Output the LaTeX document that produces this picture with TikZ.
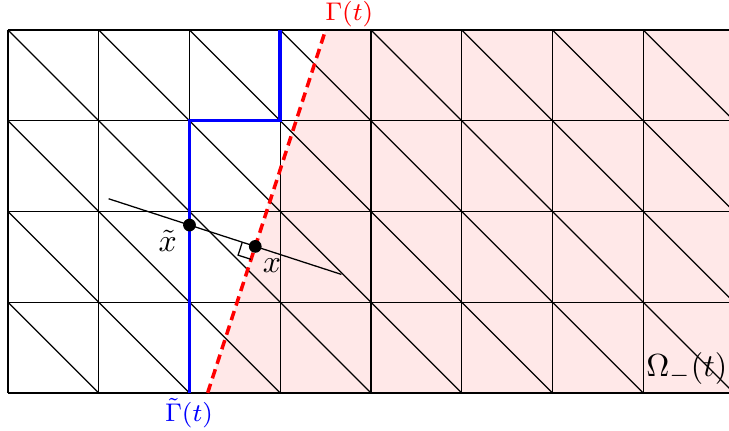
\documentclass[tikz,border=0pt]{standalone}
\usepackage{amsmath}
\usetikzlibrary{calc}
\tikzset{
  mesh line/.style={black, line width=0.4pt},
  omega fill/.style={fill=red!9},
  front line/.style={red, line width=1.1pt, dash pattern=on 3pt off 1.8pt},
  disc line/.style={blue, line width=1.1pt},
  pt dot/.style={circle, fill=black, inner sep=0pt, minimum size=4pt},
  proj line/.style={black, line width=0.4pt},
  pt label/.style={font=\normalsize, inner sep=1pt}
}
\begin{document}
\begin{tikzpicture}
  \useasboundingbox (-0.088,-0.409) rectangle (7.945,4.33);
  \coordinate (g0) at (2.2,0);
  \coordinate (g1) at (3.5,4);

  % region Omega_-
  \fill[omega fill] (g0) -- (g1) -- (8,4) -- (8,0) -- cycle;

  % mesh
  \begin{scope}
    \clip (-0.1,-0.1) rectangle (7.945,4.1);
    \foreach \i in {0,...,8}
      \draw[mesh line] (\i,0) -- (\i,4);
    \foreach \j in {0,...,4}
      \draw[mesh line] (0,\j) -- (8,\j);
    \foreach \i in {0,...,7} {
      \foreach \j in {0,...,3}
        \draw[mesh line] (\i,\j+1) -- (\i+1,\j);
    }
  \end{scope}

  % interfaces
  \draw[disc line] (2,0) -- (2,3) -- (3,3) -- (3,4);
  \draw[front line] (g0) -- (g1);

  % projection
  \node[pt dot] (xt) at (2,1.85) {};
  \coordinate (xp) at ($(g0)!(xt)!(g1)$);
  \node[pt dot] (x) at (xp) {};
  \coordinate (l0) at ($(xt)!-1.23!(xp)$);
  \coordinate (l1) at ($(xt)!2.31!(xp)$);
  \draw[proj line] (l0) -- (l1);
  \coordinate (ra1) at ($(xp)!0.15cm!(xt)$);
  \coordinate (ra2) at ($(xp)!0.15cm!(g0)$);
  \draw[proj line] (ra1) -- ($(ra1)+(ra2)-(xp)$) -- (ra2);

  % labels
  \node[pt label] (xtl) at (1.76,1.68) {$\tilde{x}$};
  \node[pt label] (xl) at (2.91,1.40) {$x$};
  \node[pt label, red, font=\footnotesize] (gl) at (3.76,4.17) {$\Gamma(t)$};
  \node[pt label, blue, font=\footnotesize] (gtl) at (1.994,-0.22) {$\tilde{\Gamma}(t)$};
  \node[pt label] (ol) at (7.48,0.265) {$\Omega_-(t)$};
\end{tikzpicture}
\end{document}
